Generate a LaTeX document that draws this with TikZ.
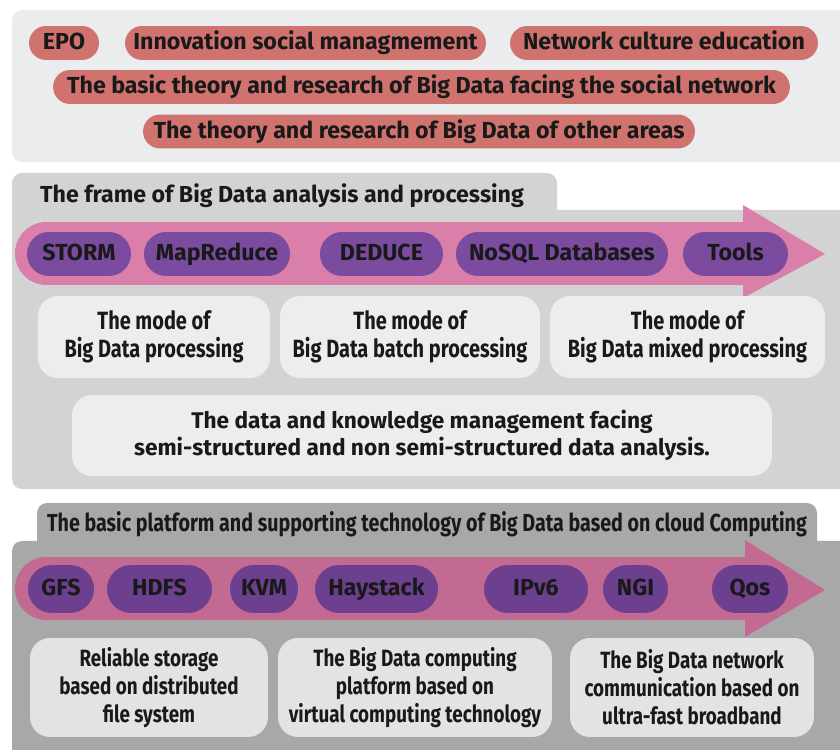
\documentclass[tikz,border=0pt]{standalone}
\usepackage{fontspec}
\setmainfont{Fira Sans}
\newfontfamily\condfont[FakeStretch=0.8]{Fira Sans}
\usepackage{tikz}
\usetikzlibrary{arrows}
\usetikzlibrary{positioning}
\definecolor{topbg}{HTML}{EBECEE}
\definecolor{salmon}{HTML}{D0736F}
\definecolor{midbg}{HTML}{D3D3D3}
\definecolor{pinkA}{HTML}{D97FAA}
\definecolor{purpleA}{HTML}{7A4B9E}
\definecolor{boxA}{HTML}{EDEDED}
\definecolor{botbg}{HTML}{A8A8A8}
\definecolor{pinkB}{HTML}{C36A92}
\definecolor{purpleB}{HTML}{6C3F8F}
\definecolor{boxB}{HTML}{E3E3E3}

\begin{document}
\begin{tikzpicture}
	[x=0.02cm,y=-0.02cm,
	every node/.style={text=black!90,font=\bfseries\fontsize{13.2}{16}\selectfont,text height=0.88em,text depth=0.12em},
	topic/.style={rounded corners=0.34cm,fill=salmon,minimum height=0.68cm,inner sep=0pt},
	toolA/.style={rounded corners=0.44cm,fill=purpleA,minimum height=0.88cm,inner sep=0pt},
	toolB/.style={rounded corners=0.48cm,fill=purpleB,minimum height=0.96cm,inner sep=0pt},
	modeA/.style={rounded corners=0.4cm,fill=boxA,minimum height=1.64cm,align=center,inner sep=0pt,
		text height=,text depth=,font=\condfont\bfseries\fontsize{14.2}{16}\selectfont},
	modeB/.style={rounded corners=0.4cm,fill=boxB,minimum height=1.98cm,align=center,inner sep=0pt,
		text height=,text depth=,font=\condfont\bfseries\fontsize{13.4}{16}\selectfont}]
	\useasboundingbox (0,0) rectangle (840,750);

	% panels
	\fill[topbg,rounded corners=0.2cm] (12,10) rectangle (860,162);
	\fill[midbg,rounded corners=0.2cm] (12,173) rectangle (557,240);
	\fill[midbg,rounded corners=0.2cm] (12,210) rectangle (860,489);
	\fill[botbg,rounded corners=0.2cm] (37,503) rectangle (817,570);
	\fill[botbg,rounded corners=0.2cm] (12,541) rectangle (860,770);

	% arrows
	\fill[pinkA] (46.5,222) rectangle (750,285);
	\fill[pinkA] (46.5,253.5) circle[radius=31.5];
	\fill[pinkA] (743,205) -- (825,254) -- (743,298) -- cycle;
	\fill[pinkB] (46.5,557) rectangle (750,620);
	\fill[pinkB] (46.5,588.5) circle[radius=31.5];
	\fill[pinkB] (745,540) -- (825,590) -- (745,637) -- cycle;

	\node[topic,minimum width=1.4cm] (epo) at (64,43) {EPO};
	\node[topic,minimum width=7.22cm] (innov) at (305.5,43) {Innovation social managmement};
	\node[topic,minimum width=6.16cm] (culture) at (664,43) {Network culture education};
	\node[topic,minimum width=14.74cm] (social) at (421.5,87) {The basic theory and research of Big Data facing the social network};
	\node[topic,minimum width=11.04cm] (other) at (419,131.5) {The theory and research of Big Data of other areas};

	\node (frame) at (282,196) {The frame of Big Data analysis and processing};
	\foreach \nm/\cx/\w/\txt in {storm/79/2.08/STORM, mapred/217/2.92/MapReduce,
		deduce/381.5/2.46/DEDUCE, nosql/562/4.24/NoSQL Databases, tools/735.5/2.1/Tools}
	\node[toolA,minimum width=\w cm] (\nm) at (\cx,254) {\txt};

	\node[modeA,minimum width=4.64cm] (stream) at (154,337) {The mode of\\Big Data processing};
	\node[modeA,minimum width=5.2cm] (batch) at (410,337) {The mode of\\Big Data batch processing};
	\node[modeA,minimum width=5.5cm] (mixed) at (687.5,337) {The mode of\\Big Data mixed processing};
	\node[modeA,minimum width=14cm,minimum height=1.62cm,font=\bfseries\fontsize{12.9}{15.5}\selectfont] (knowledge) at (422,435.5) {The data and knowledge management facing\\semi-structured and non semi-structured data analysis.};

	\node[font=\condfont\bfseries\fontsize{14}{16}\selectfont] (platform) at (427,525) {The basic platform and supporting technology of Big Data based on cloud Computing};
	\foreach \nm/\cx/\w/\txt in {gfs/61/1.32/GFS, hdfs/159.5/2.1/HDFS, kvm/264/1.36/KVM,
		haystack/376.5/2.46/Haystack, ipv/536/2.08/IPv6, ngi/635.5/1.3/NGI, qos/750/1.52/Qos}
	\node[toolB,minimum width=\w cm] (\nm) at (\cx,589) {\txt};

	\node[modeB,minimum width=4.76cm] (storage) at (149,687.5) {Reliable storage\\based on distributed\\file system};
	\node[modeB,minimum width=5.48cm] (computing) at (415,687.5) {The Big Data computing\\platform based on\\virtual computing technology};
	\node[modeB,minimum width=4.88cm] (network) at (692,687.5) {The Big Data network\\communication based on\\ultra-fast broadband};
\end{tikzpicture}
\end{document}
